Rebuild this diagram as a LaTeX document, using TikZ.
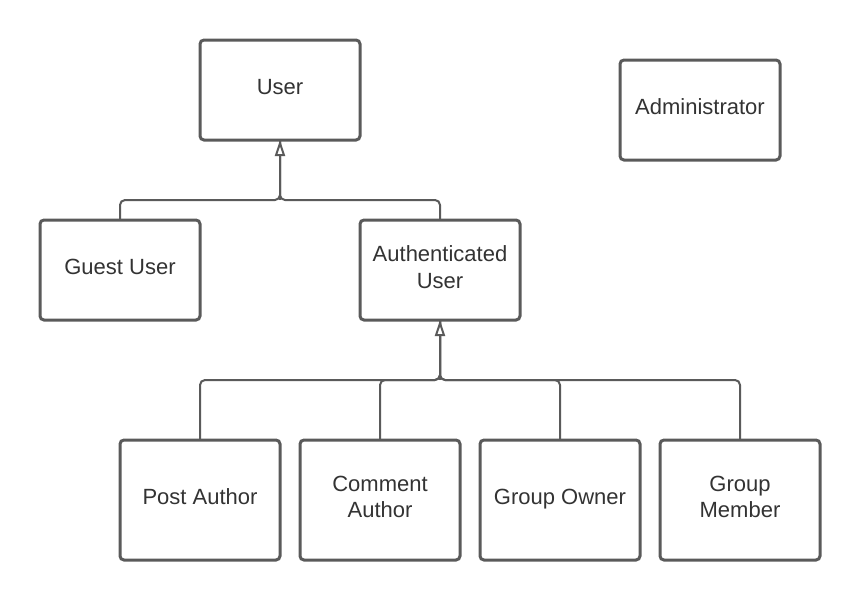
\documentclass[tikz,border=0pt]{standalone}
\usepackage{fontspec}
\setmainfont{Liberation Sans}
\usetikzlibrary{arrows.meta}
\definecolor{linegray}{HTML}{5A5A5A}
\definecolor{textgray}{HTML}{333333}
\begin{document}
\begin{tikzpicture}[x=1pt,y=-1pt,
  classbox/.style={draw=linegray, line width=3pt, rounded corners=4pt, fill=white,
    minimum width=160pt, minimum height=100pt, outer sep=0pt, inner sep=0pt},
  tallbox/.style={classbox, minimum height=120pt},
  lbl/.style={yshift=3pt, align=center, text=textgray, inner sep=0pt,
    font=\fontsize{22}{26.5}\selectfont},
  lbl1/.style={lbl, yshift=-2pt, text height=16pt, text depth=5pt},
  conn/.style={draw=linegray, line width=2pt, rounded corners=5pt},
  inh/.style={draw=linegray, line width=2pt, -{Triangle[length=16pt,width=10pt,fill=white]}}
]
\useasboundingbox (0,0) rectangle (860,600);
\node[classbox, label={[lbl1]center:User}] (user) at (280,90) {};
\node[classbox, label={[lbl1]center:Administrator}] (admin) at (700,110) {};
\node[classbox, label={[lbl1]center:Guest User}] (guest) at (120,270) {};
\node[classbox, label={[lbl]center:{Authenticated\\User}}] (auth) at (440,270) {};
\node[tallbox, label={[lbl1]center:Post Author}] (post) at (200,500) {};
\node[tallbox, label={[lbl]center:{Comment\\Author}}] (comment) at (380,500) {};
\node[tallbox, label={[lbl1]center:Group Owner}] (owner) at (560,500) {};
\node[tallbox, label={[lbl]center:{Group\\Member}}] (member) at (740,500) {};
\coordinate (jU) at (280,200);
\coordinate (jA) at (440,380);
\draw[conn] (guest.north) |- (jU) -- (user.south);
\draw[conn] (auth.north) |- (jU) -- (user.south);
\draw[inh] (jU) -- (user.south);
\foreach \c in {post,comment,owner,member}
  \draw[conn] (\c.north) |- (jA) -- (auth.south);
\draw[inh] (jA) -- (auth.south);
\end{tikzpicture}
\end{document}
